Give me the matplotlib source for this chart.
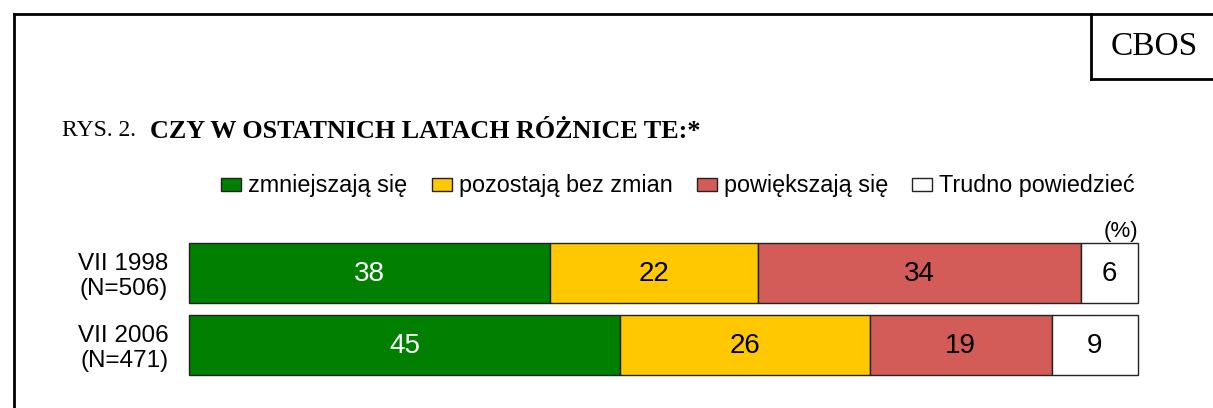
import matplotlib.pyplot as plt
import numpy as np
from matplotlib.patches import Rectangle
from matplotlib.lines import Line2D

# data
groups = ["VII 1998\n(N=506)", "VII 2006\n(N=471)"]
answers = ["zmniejszają się", "pozostają bez zmian", "powiększają się", "Trudno powiedzieć"]
values = np.array([
    [38, 22, 34, 6],
    [45, 26, 19, 9],
])
colors = ["#007f00", "#ffc800", "#d35c58", "#ffffff"]
text_colors = ["white", "black", "black", "black"]

W, H = 1213, 408
fig = plt.figure(figsize=(W / 100, H / 100), dpi=100)
plt.rcParams["font.family"] = ["Liberation Sans", "DejaVu Sans"]


# figure coords from pixel coords
def px(x, y):
    return x / W, 1 - y / H


# frame lines
for (x0, y0), (x1, y1) in [
    ((14, 14), (W, 14)),
    ((14, 14), (14, H)),
    ((1091, 14), (1091, 79)),
    ((1091, 79), (W, 79)),
]:
    a, b = px(x0, y0)
    c, d = px(x1, y1)
    fig.add_artist(Line2D([a, c], [b, d], color="black", lw=2, transform=fig.transFigure))

fig.text(*px(1154, 47), "CBOS", family="Liberation Serif", fontsize=24, ha="center", va="center")
fig.text(*px(62, 131), "RYS. 2.", family="Liberation Serif", fontsize=17, ha="left", va="center")
fig.text(*px(150, 131), "CZY W OSTATNICH LATACH RÓŻNICE TE:*", family="Liberation Serif",
         fontsize=18.8, fontweight="bold", ha="left", va="center")

# bar axes: x 189..1138, y 243..375
ax = fig.add_axes([189 / W, 1 - 375 / H, (1138 - 189) / W, 132 / H])
shares = values / values.sum(axis=1, keepdims=True) * 100
bar_h = 60 / 72
for i, row in enumerate(shares):
    left = 0
    for j, w in enumerate(row):
        ax.barh(i, w, left=left, height=bar_h, color=colors[j], edgecolor="#222222", lw=1,
                clip_on=False)
        ax.text(left + w / 2, i + 0.01, str(values[i, j]), ha="center", va="center",
                fontsize=20, color=text_colors[j])
        left += w
ax.set_xlim(0, 100)
ax.set_ylim(1 + 30 / 72, -30 / 72)
ax.set_yticks(range(len(groups)))
ax.set_yticklabels(groups, fontsize=17.5, linespacing=1.15)
ax.tick_params(axis="y", length=0, pad=15)
ax.set_xticks([])
for s in ax.spines.values():
    s.set_visible(False)

ax.text(1.0, 1.01, "(%)", transform=ax.transAxes, ha="right", va="bottom", fontsize=16)

# legend
handles = [Rectangle((0, 0), 1, 1, facecolor=c, edgecolor="#222222", lw=1) for c in colors]
fig.legend(handles, answers, loc="center", bbox_to_anchor=px(678, 186), ncol=4,
           frameon=False, fontsize=16.8, handlelength=0.85, handleheight=0.5,
           handletextpad=0.3, columnspacing=1.05)

fig.savefig("out.png", dpi=100)
